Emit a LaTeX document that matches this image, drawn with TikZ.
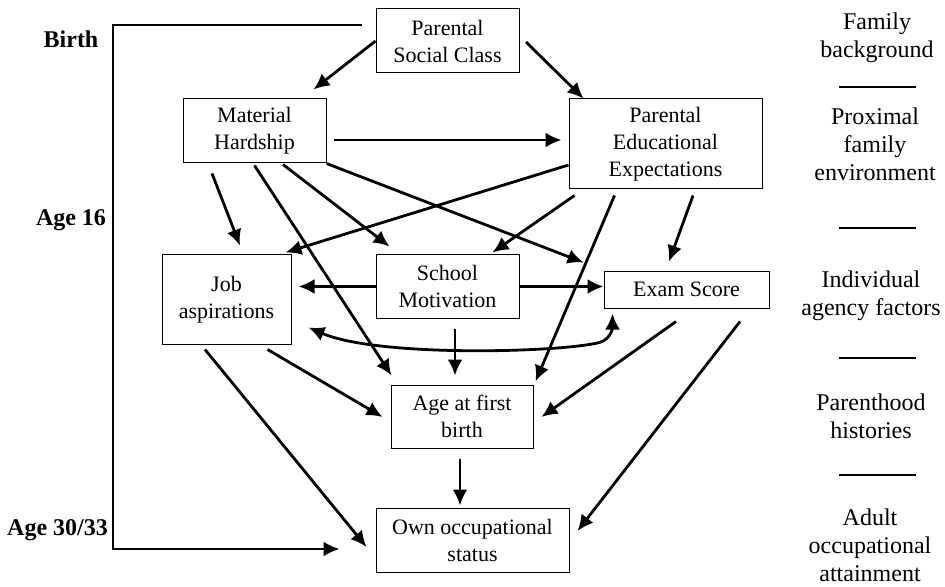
\documentclass[tikz,border=0pt]{standalone}
\usepackage{fontspec}
\setmainfont{Liberation Serif}
\usetikzlibrary{arrows.meta,calc}

\begin{document}
\begin{tikzpicture}[x=0.5pt,y=-0.5pt]
\tikzstyle{box}=[draw,line width=0.5pt,inner sep=0pt,align=center,font=\fontsize{11}{13.5}\selectfont]
\tikzstyle{lab}=[align=center,font=\fontsize{12}{14}\selectfont]
\tikzstyle{age}=[font=\fontsize{12}{14}\selectfont\bfseries]
\tikzstyle{arr}=[->,>={Latex[length=8pt,width=7.5pt]},line width=1.4pt]
\useasboundingbox (0,0) rectangle (945,587);

% boxes
\node[box,minimum width=71.5pt,minimum height=32pt] (psc) at (447.5,41) {Parental\\Social Class};
\node[box,minimum width=71.5pt,minimum height=32pt] (mh) at (254.5,131) {Material\\Hardship};
\node[box,minimum width=96.5pt,minimum height=45pt] (pee) at (665.5,144) {Parental\\Educational\\Expectations};
\node[box,minimum width=64.5pt,minimum height=44.5pt] (job) at (226.5,299.5) {Job\\aspirations};
\node[box,minimum width=71.5pt,minimum height=31.5pt] (sm) at (447.5,286.5) {School\\Motivation};
\node[box,minimum width=82.5pt,minimum height=18.5pt] (es) at (686.5,289.5) {Exam Score};
\node[box,minimum width=71pt,minimum height=31.5pt] (afb) at (462,416.5) {Age at first\\birth};
\node[box,minimum width=96.5pt,minimum height=32pt] (oos) at (472.5,540) {Own occupational\\status};

% ages on the left
\node[age] (birth) at (71,39) {Birth};
\node[age] (age16) at (71,220) {Age 16};
\node[age] (age3033) at (57.5,530) {Age 30/33};

% stages on the right
\node[lab] (fam) at (877,38) {Family\\background};
\node[lab] (prox) at (875,144) {Proximal\\family\\environment};
\node[lab] (indiv) at (871,296) {Individual\\agency factors};
\node[lab] (parh) at (871,416) {Parenthood\\histories};
\node[lab] (adult) at (870,545) {Adult\\occupational\\attainment};
\foreach \y in {87,228,358,475}
  \draw[line width=1.4pt] (839,\y) -- (916,\y);

% time line
\coordinate (bl) at (113,549);
\draw[arr] ($(psc.west)+(-14,-16)$) -| (bl) -- ($(oos.west)+(-36,9)$);

\draw[arr] (psc.west) -- ($(mh.north east)+(-13,-9)$);
\draw[arr] ($(psc.east)+(6.5,1)$) -- ($(pee.north west)+(15,0)$);

\draw[arr] ($(mh.east)+(7,9)$) -- ($(pee.west)+(-7,-4)$);
\draw[arr] ($(mh.south)+(-42.5,10)$) -- ($(job.north)+(13.5,-9)$);
\draw[arr] ($(mh.south)+(0,2)$) -- ($(afb.north west)+(1,-9)$);
\draw[arr] ($(mh.south)+(28.5,1)$) -- ($(sm.north west)+(14,-8)$);
\draw[arr] (mh.south east) -- ($(es.north west)+(-20,-8)$);

\draw[arr] ($(pee.west)+(0,21)$) -- ($(job.north east)+(-6,-2)$);
\draw[arr] ($(pee.south west)+(6,6)$) -- ($(sm.north east)+(-27,-2)$);
\draw[arr] ($(pee.south west)+(46,6)$) -- ($(afb.north east)+(2,-3)$);
\draw[arr] ($(pee.south)+(27.5,6)$) -- ($(es.north)+(-17.5,-9)$);

\draw[arr] (sm.east) -- (sm.east -| es.west);
\draw[arr] (sm.west) -- ($(sm.west -| job.east)+(7,0)$);
\draw[arr] ($(sm.south)+(7.5,10)$) -- ($(afb.north)+(-7,-9)$);
\draw[arr,<->] ($(job.south east)+(17,-17)$) .. controls +(70,30) and +(-40,10) .. ($(es.south west)+(-4,34)$)
  .. controls +(13,-4) and +(0,12) .. ($(es.south west)+(9,5)$);

\draw[arr] ($(job.south east)+(-24,5)$) -- ($(afb.west)+(-8,0.5)$);
\draw[arr] ($(job.south)+(-21.5,5)$) -- ($(oos.west)+(-9,7)$);
\draw[arr] ($(es.south)+(-10.5,13)$) -- ($(afb.east)+(8,0.5)$);
\draw[arr] ($(es.south)+(53.5,13)$) -- ($(oos.east)+(8,-9)$);
\draw[arr] ($(afb.south)+(-2,10)$) -- ($(oos.north)+(-12.5,-2)$);
\end{tikzpicture}
\end{document}
